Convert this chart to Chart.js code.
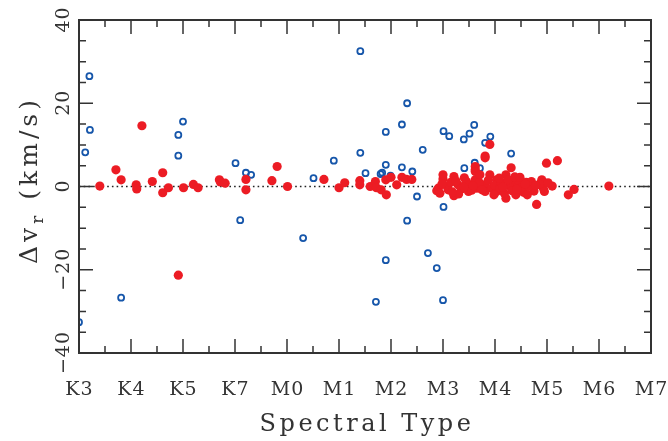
<!DOCTYPE html>
<html>
<head>
<meta charset="utf-8">
<script src="https://cdn.jsdelivr.net/npm/chart.js@4/dist/chart.umd.min.js"></script>
<style>
  body { margin: 0; background: #fff; }
  canvas { display: block; }
</style>
</head>
<body>
<canvas id="myChart" width="668" height="441"></canvas>
<script>
// spectral type labels, one per integer x position
var typeLabels = ['K3', 'K4', 'K5', 'K7', 'M0', 'M1', 'M2', 'M3', 'M4', 'M5', 'M6', 'M7'];
var yTicks = [-40, -20, 0, 20, 40];

// open blue circles [type index, dv_r]
var openPts = [
  [0.0, -32.6], [0.2, 26.5], [0.21, 13.6], [0.12, 8.2], [0.81, -26.7],
  [1.91, 12.4], [2.0, 15.6], [1.91, 7.4], [3.01, 5.6], [3.21, 3.3],
  [3.31, 2.8], [3.10, -8.1], [4.31, -12.4], [4.51, 2.0], [4.90, 6.2],
  [5.41, 8.1], [5.51, 3.2], [5.80, 3.0], [5.83, 3.3], [5.90, 5.2],
  [6.21, 4.6], [6.41, 3.6], [6.50, -2.4], [6.31, -8.2], [5.41, 32.5],
  [6.31, 20.0], [6.21, 14.9], [5.90, 13.1], [7.01, 13.3], [7.12, 12.1],
  [7.40, 11.3], [7.51, 12.7], [7.60, 14.8], [7.81, 10.5], [7.91, 12.0],
  [6.61, 8.8], [8.31, 7.9], [7.01, -4.9], [7.41, 4.4], [7.61, 5.7],
  [7.71, 4.4], [6.71, -16.0], [6.88, -19.6], [7.0, -27.3], [5.71, -27.7],
  [5.90, -17.7], [5.99, 2.6]
];

// filled red circles [type index, dv_r]
var filledPts = [
  [0.40, 0.1], [0.71, 4.0], [0.81, 1.6], [1.10, 0.4], [1.11, -0.6],
  [1.21, 14.6], [1.41, 1.2], [1.61, 3.3], [1.61, -1.5], [1.72, -0.3],
  [1.91, -21.3], [2.01, -0.3], [2.20, 0.5], [2.29, -0.3], [2.70, 1.6],
  [2.72, 1.1], [2.81, 0.8], [3.21, 1.7], [3.21, -0.8], [3.71, 1.4],
  [3.81, 4.8], [4.01, 0.0], [4.71, 1.7], [5.0, -0.3], [5.11, 0.9],
  [5.40, 1.4], [5.40, 0.4], [5.60, 0.0], [5.70, 1.2], [5.72, -0.3],
  [5.81, -0.8], [5.91, -2.0], [5.90, 1.6], [6.0, 2.2], [6.11, 0.4],
  [6.21, 2.2], [6.30, 1.7], [6.40, 1.7],
  [6.88, -1.0], [6.91, -0.4], [6.94, -1.6], [7.0, 1.8], [7.0, 2.8],
  [7.08, 0.0], [7.21, 2.4], [7.21, -2.2], [7.29, 0.4], [7.41, 2.1],
  [7.49, -1.2], [7.51, 0.4], [7.62, 4.0], [7.62, 4.8], [7.62, 3.6],
  [7.62, 1.6], [7.65, -0.4], [7.71, 2.8], [7.81, 6.9], [7.81, 7.3],
  [7.90, 10.1], [7.81, 0.4], [7.81, -1.2], [7.90, 2.8], [7.94, -0.4],
  [8.03, 1.6], [8.03, -1.2], [8.21, 2.8], [8.21, -2.8], [8.31, 4.5],
  [8.40, 0.8], [8.40, -2.0], [8.60, 1.0], [8.75, -1.1], [8.80, -4.3],
  [8.90, 1.6], [8.93, -0.4], [8.99, 5.6], [9.1, 0.1], [9.2, 6.2],
  [9.41, -2.0], [9.52, -0.7], [10.19, 0.1],
  [7.1, -0.8], [7.15, 1.0], [7.35, -0.6], [7.45, 1.2], [7.55, -0.9],
  [7.7, 0.9], [7.75, -0.8], [7.87, 1.5], [8.0, 0.3], [8.1, -0.5],
  [8.12, 0.9], [8.18, -1.6], [8.27, 0.2], [8.33, -1.0], [8.45, 1.4],
  [8.5, -0.3], [8.55, -1.4], [8.65, 0.0], [8.7, 1.2], [8.85, 0.5],
  [8.95, -1.2], [9.02, 0.9], [8.25, 1.6], [8.38, 2.3], [7.3, -1.8],
  [7.98, -2.0], [8.48, 2.2], [8.62, -2.0], [7.18, -1.3], [7.4, -0.2],
  [7.58, 0.2], [8.08, 2.0], [8.58, 0.6], [8.78, 0.3], [7.25, 1.3],
  [6.98, 0.6], [8.15, -0.2], [8.42, -0.7]
];

function toXY(arr) {
  return arr.map(function(p) { return {x: p[0], y: p[1]}; });
}

var axisColor = '#333333';
var fontName = '"DejaVu Serif", serif';

// frame, ticks and labels drawn from the chart's own scales
var framePlugin = {
  id: 'frame',
  afterDraw: function(chart) {
    var c = chart.ctx;
    var a = chart.chartArea;
    var xs = chart.scales.x, ys = chart.scales.y;
    c.save();
    c.strokeStyle = axisColor;
    c.lineWidth = 2;
    c.strokeRect(a.left, a.top, a.right - a.left, a.bottom - a.top);
    c.lineWidth = 1.5;
    c.beginPath();
    for (var i = 0; i <= 22; i++) {
      var px = xs.getPixelForValue(i / 2);
      var len = (i % 2 == 0) ? 14 : 7;
      c.moveTo(px, a.bottom); c.lineTo(px, a.bottom - len);
      c.moveTo(px, a.top); c.lineTo(px, a.top + len);
    }
    for (var v = -40; v <= 40; v += 5) {
      var py = ys.getPixelForValue(v);
      var len2 = (v % 20 == 0) ? 14 : 7;
      c.moveTo(a.left, py); c.lineTo(a.left + len2, py);
      c.moveTo(a.right, py); c.lineTo(a.right - len2, py);
    }
    c.stroke();

    c.fillStyle = axisColor;
    c.font = '19px ' + fontName;
    c.letterSpacing = '1px';
    c.textAlign = 'center';
    c.textBaseline = 'alphabetic';
    for (var k = 0; k < typeLabels.length; k++) {
      c.fillText(typeLabels[k], xs.getPixelForValue(k) + 0.5, 395);
    }
    for (var t = 0; t < yTicks.length; t++) {
      var ty = ys.getPixelForValue(yTicks[t]);
      c.save();
      c.translate(69, ty);
      c.rotate(-Math.PI / 2);
      c.fillText(yTicks[t] < 0 ? '\u2212' + Math.abs(yTicks[t]) : String(yTicks[t]), 0.5, 0);
      c.restore();
    }

    c.font = '24px ' + fontName;
    c.letterSpacing = '3.5px';
    c.fillText('Spectral Type', (a.left + a.right) / 2 + 2, 431);

    // y title with subscript
    c.save();
    c.translate(37, 180);
    c.rotate(-Math.PI / 2);
    c.textAlign = 'left';
    c.letterSpacing = '4px';
    var big = '25px ' + fontName, small = '17px ' + fontName;
    c.font = big; var w1 = c.measureText('\u0394v').width;
    c.font = small; var w2 = c.measureText('r').width;
    c.font = big; var w3 = c.measureText(' (km/s)').width;
    var x0 = -(w1 + w2 + w3) / 2;
    c.font = big; c.fillText('\u0394v', x0, 0);
    c.font = small; c.fillText('r', x0 + w1, 6);
    c.font = big; c.fillText(' (km/s)', x0 + w1 + w2, 0);
    c.restore();
    c.restore();
  }
};

var ctx = document.getElementById('myChart').getContext('2d');
var myChart = new Chart(ctx, {
  type: 'scatter',
  data: {
    datasets: [{
      label: 'filled',
      data: toXY(filledPts),
      backgroundColor: '#ec1c24',
      borderColor: '#ec1c24',
      borderWidth: 0,
      pointRadius: 4.6,
      order: 1
    }, {
      label: 'open',
      data: toXY(openPts),
      backgroundColor: 'rgba(255,255,255,0)',
      borderColor: '#1656aa',
      borderWidth: 1.8,
      pointRadius: 3,
      order: 2
    }, {
      type: 'line',
      label: 'zero',
      data: [{x: 0, y: 0}, {x: 11, y: 0}],
      borderColor: '#222222',
      borderWidth: 1.6,
      borderDash: [1.6, 3.1],
      pointRadius: 0,
      order: 3
    }]
  },
  options: {
    responsive: false,
    animation: false,
    layout: { padding: { left: 79, top: 20, right: 17, bottom: 88 } },
    scales: {
      x: { type: 'linear', min: 0, max: 11, display: false },
      y: { min: -40, max: 40, display: false }
    },
    plugins: { legend: { display: false }, tooltip: { enabled: false } }
  },
  plugins: [framePlugin]
});
</script>
</body>
</html>
